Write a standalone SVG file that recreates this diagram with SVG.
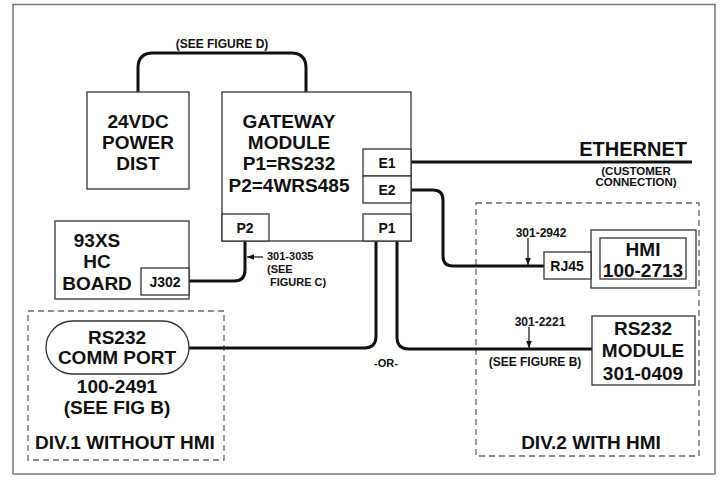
<svg xmlns="http://www.w3.org/2000/svg" width="725" height="485" viewBox="0 0 725 485">
<style>
text{font-family:"Liberation Sans",Arial,sans-serif;font-weight:bold;fill:#111}
.big{font-size:19px;text-anchor:middle}
.port{font-size:14px;text-anchor:middle}
.sm{font-size:12px}
.box{fill:#fff;stroke:#333;stroke-width:1.3}
.dash{fill:none;stroke:#666;stroke-width:1.3;stroke-dasharray:6,4}
.wire{fill:none;stroke:#111;stroke-width:3;stroke-linecap:butt}
.lead{fill:none;stroke:#111;stroke-width:1.2}
</style>
<defs>
<marker id="ah" viewBox="0 0 10 10" refX="10" refY="5" markerWidth="7" markerHeight="7" orient="auto" markerUnits="userSpaceOnUse">
<path d="M0,1 L10,5 L0,9 Z" fill="#111"/>
</marker>
</defs>
<rect x="13" y="4.5" width="702" height="469.5" fill="#fff" stroke="#777" stroke-width="1.5"/>

<g id="div1">
<rect class="dash" x="28" y="311" width="196" height="149"/>
<text class="big" x="125" y="449">DIV.1 WITHOUT HMI</text>
</g>
<g id="div2">
<rect class="dash" x="476" y="203" width="223" height="253"/>
<text class="big" x="591" y="449">DIV.2 WITH HMI</text>
</g>

<g id="connectors">
<path class="wire" d="M138,92 V68 Q138,53 153,53 H291 Q306,53 306,68 V92"/>
<path class="wire" d="M411,162 H692"/>
<path class="wire" d="M411,190 H433 Q443,190 443,200 V256 Q443,266 453,266 H544"/>
<path class="wire" d="M376,241 V336 Q376,348 364,348 H189"/>
<path class="wire" d="M397,241 V337 Q397,349 409,349 H592"/>
<path class="wire" d="M245,241 V270 Q245,281 234,281 H189"/>
<path class="lead" d="M528,238 V265" marker-end="url(#ah)"/>
<path class="lead" d="M529,327 V348" marker-end="url(#ah)"/>
<path class="lead" d="M263,257 H247" marker-end="url(#ah)"/>
<text class="sm" x="222" y="48" text-anchor="middle">(SEE FIGURE D)</text>
<text class="sm" x="541" y="237" text-anchor="middle">301-2942</text>
<text class="sm" x="540" y="326" text-anchor="middle">301-2221</text>
<text class="sm" x="535" y="366" text-anchor="middle">(SEE FIGURE B)</text>
<text x="386" y="367" text-anchor="middle" font-size="11">-OR-</text>
<text x="267" y="260" font-size="11">301-3035</text>
<text x="267" y="273" font-size="11">(SEE</text>
<text x="270" y="286" font-size="11">FIGURE C)</text>
<text x="687" y="156" text-anchor="end" font-size="20">ETHERNET</text>
<text x="636" y="175" text-anchor="middle" font-size="11.5">(CUSTOMER</text>
<text x="636" y="186" text-anchor="middle" font-size="11.5">CONNECTION)</text>
</g>

<g id="power">
<rect class="box" x="87" y="92" width="102" height="97"/>
<text class="big" x="138" y="128">24VDC</text>
<text class="big" x="138" y="149">POWER</text>
<text class="big" x="138" y="170">DIST</text>
</g>

<g id="gateway">
<rect class="box" x="222" y="92" width="189" height="149"/>
<text class="big" x="289" y="128">GATEWAY</text>
<text class="big" x="289" y="149">MODULE</text>
<text class="big" x="289" y="170">P1=RS232</text>
<text class="big" x="289" y="192">P2=4WRS485</text>
<rect class="box" x="363" y="149" width="48" height="27"/>
<text class="port" x="387" y="168">E1</text>
<rect class="box" x="363" y="176" width="48" height="27"/>
<text class="port" x="387" y="195">E2</text>
<rect class="box" x="363" y="214" width="48" height="27"/>
<text class="port" x="387" y="233">P1</text>
<rect class="box" x="222" y="214" width="47" height="27"/>
<text class="port" x="245" y="233">P2</text>
</g>

<g id="hcboard">
<rect class="box" x="55" y="221" width="134" height="78"/>
<text class="big" x="97" y="247">93XS</text>
<text class="big" x="97" y="268">HC</text>
<text class="big" x="97" y="290">BOARD</text>
<rect class="box" x="141" y="268" width="48" height="27"/>
<text class="port" x="165" y="287" font-size="13">J302</text>
</g>

<g id="commport">
<rect class="box" x="46" y="321" width="143" height="53" rx="26.5" ry="26.5"/>
<text class="big" x="117" y="344">RS232</text>
<text class="big" x="117" y="364">COMM PORT</text>
<text class="big" x="117" y="393" font-size="18">100-2491</text>
<text class="big" x="117" y="414" font-size="18">(SEE FIG B)</text>
</g>

<g id="hmi">
<rect class="box" x="591" y="230" width="105" height="58"/>
<rect class="box" x="600" y="238" width="86" height="41"/>
<text class="big" x="643" y="256">HMI</text>
<text class="big" x="643" y="277">100-2713</text>
<rect class="box" x="544" y="252" width="47" height="27"/>
<text class="port" x="567" y="271">RJ45</text>
</g>

<g id="rs232module">
<rect class="box" x="592" y="316" width="103" height="69"/>
<text class="big" x="643" y="335">RS232</text>
<text class="big" x="643" y="357">MODULE</text>
<text class="big" x="643" y="380">301-0409</text>
</g>
</svg>
